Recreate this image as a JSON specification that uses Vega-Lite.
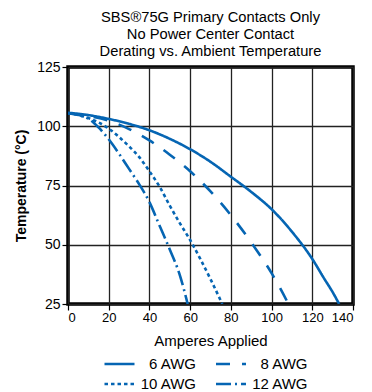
{
  "$schema": "https://vega.github.io/schema/vega-lite/v6.json",
  "autosize": "none",
  "width": 285,
  "height": 237,
  "padding": {"left": 68, "top": 67, "right": 19, "bottom": 88},
  "background": "white",
  "title": {
    "text": ["SBS®75G Primary Contacts Only", "No Power Center Contact", "Derating vs. Ambient Temperature"],
    "font": "Liberation Sans",
    "fontSize": 14.7,
    "fontWeight": "normal",
    "color": "#000",
    "lineHeight": 17,
    "anchor": "middle",
    "offset": 1
  },
  "data": {
    "values": [
      {"a": 0, "t": 105.7, "s": "6 AWG"},
      {"a": 10, "t": 104.7, "s": "6 AWG"},
      {"a": 20, "t": 103.1, "s": "6 AWG"},
      {"a": 30, "t": 101, "s": "6 AWG"},
      {"a": 40, "t": 98.3, "s": "6 AWG"},
      {"a": 50, "t": 94.7, "s": "6 AWG"},
      {"a": 60, "t": 90.3, "s": "6 AWG"},
      {"a": 70, "t": 85, "s": "6 AWG"},
      {"a": 80, "t": 78.7, "s": "6 AWG"},
      {"a": 90, "t": 72.3, "s": "6 AWG"},
      {"a": 100, "t": 65, "s": "6 AWG"},
      {"a": 110, "t": 55.5, "s": "6 AWG"},
      {"a": 120, "t": 44, "s": "6 AWG"},
      {"a": 126, "t": 35.5, "s": "6 AWG"},
      {"a": 130, "t": 30, "s": "6 AWG"},
      {"a": 133.2, "t": 25, "s": "6 AWG"},
      {"a": 0, "t": 105.5, "s": "8 AWG"},
      {"a": 10, "t": 104.3, "s": "8 AWG"},
      {"a": 20, "t": 102.3, "s": "8 AWG"},
      {"a": 30, "t": 98.8, "s": "8 AWG"},
      {"a": 40, "t": 94, "s": "8 AWG"},
      {"a": 50, "t": 88, "s": "8 AWG"},
      {"a": 60, "t": 81, "s": "8 AWG"},
      {"a": 70, "t": 72.5, "s": "8 AWG"},
      {"a": 80, "t": 62.5, "s": "8 AWG"},
      {"a": 90, "t": 51, "s": "8 AWG"},
      {"a": 100, "t": 38, "s": "8 AWG"},
      {"a": 104, "t": 32, "s": "8 AWG"},
      {"a": 108.3, "t": 25, "s": "8 AWG"},
      {"a": 0, "t": 105.5, "s": "10 AWG"},
      {"a": 10, "t": 103.5, "s": "10 AWG"},
      {"a": 20, "t": 99, "s": "10 AWG"},
      {"a": 25, "t": 95.5, "s": "10 AWG"},
      {"a": 30, "t": 91.5, "s": "10 AWG"},
      {"a": 35, "t": 87, "s": "10 AWG"},
      {"a": 40, "t": 81, "s": "10 AWG"},
      {"a": 45, "t": 74.5, "s": "10 AWG"},
      {"a": 50, "t": 66.5, "s": "10 AWG"},
      {"a": 55, "t": 59, "s": "10 AWG"},
      {"a": 60, "t": 52, "s": "10 AWG"},
      {"a": 65, "t": 44, "s": "10 AWG"},
      {"a": 70, "t": 35.5, "s": "10 AWG"},
      {"a": 75.8, "t": 25, "s": "10 AWG"},
      {"a": 0, "t": 105.5, "s": "12 AWG"},
      {"a": 10, "t": 103.2, "s": "12 AWG"},
      {"a": 15, "t": 99.5, "s": "12 AWG"},
      {"a": 20, "t": 94.5, "s": "12 AWG"},
      {"a": 25, "t": 88.5, "s": "12 AWG"},
      {"a": 30, "t": 82, "s": "12 AWG"},
      {"a": 35, "t": 75.5, "s": "12 AWG"},
      {"a": 40, "t": 68, "s": "12 AWG"},
      {"a": 45, "t": 58, "s": "12 AWG"},
      {"a": 50, "t": 48, "s": "12 AWG"},
      {"a": 55, "t": 37, "s": "12 AWG"},
      {"a": 58.8, "t": 25, "s": "12 AWG"}
    ]
  },
  "mark": {"type": "line", "color": "#0565b3", "strokeWidth": 2.6, "interpolate": "monotone", "clip": true},
  "encoding": {
    "x": {
      "field": "a", "type": "quantitative",
      "scale": {"domain": [0, 140], "nice": false},
      "axis": {"values": [0, 20, 40, 60, 80, 100, 120, 140], "title": "Amperes Applied", "titlePadding": 9, "labelFontSize": 13, "titleFontSize": 15, "labelPadding": 1}
    },
    "y": {
      "field": "t", "type": "quantitative",
      "scale": {"domain": [25, 125], "nice": false, "zero": false},
      "axis": {"values": [25, 50, 75, 100, 125], "title": "Temperature (°C)", "titleFontWeight": "bold", "titleFontSize": 14, "labelFontSize": 14, "titlePadding": 8, "labelPadding": 2}
    },
    "strokeDash": {
      "field": "s", "type": "nominal",
      "scale": {"domain": ["6 AWG", "8 AWG", "10 AWG", "12 AWG"], "range": [[1, 0], [14, 12], [3.5, 3], [15, 4, 2, 4]]},
      "legend": {
        "title": null,
        "orient": "none",
        "legendX": 42.5,
        "legendY": 288,
        "direction": "horizontal",
        "columns": 2,
        "symbolType": "M-2,0H2",
        "symbolSize": 225,
        "symbolStrokeWidth": 2.6,
        "symbolStrokeColor": "#0565b3",
        "symbolFillColor": "transparent",
        "labelFont": "Liberation Sans",
        "labelFontSize": 15,
        "labelColor": "#000",
        "labelAlign": "right",
        "labelOffset": 67.5,
        "columnPadding": 13.5,
        "rowPadding": 3
      }
    }
  },
  "config": {
    "view": {"stroke": "#000", "strokeWidth": 3.5},
    "axis": {
      "domain": false,
      "grid": true,
      "gridColor": "#222",
      "gridWidth": 1.3,
      "gridOpacity": 1,
      "ticks": true,
      "tickColor": "#000",
      "tickSize": 6,
      "tickWidth": 1.2,
      "labelFont": "Liberation Sans",
      "labelColor": "#000",
      "titleFont": "Liberation Sans",
      "titleFontWeight": "normal",
      "titleColor": "#000"
    }
  }
}
